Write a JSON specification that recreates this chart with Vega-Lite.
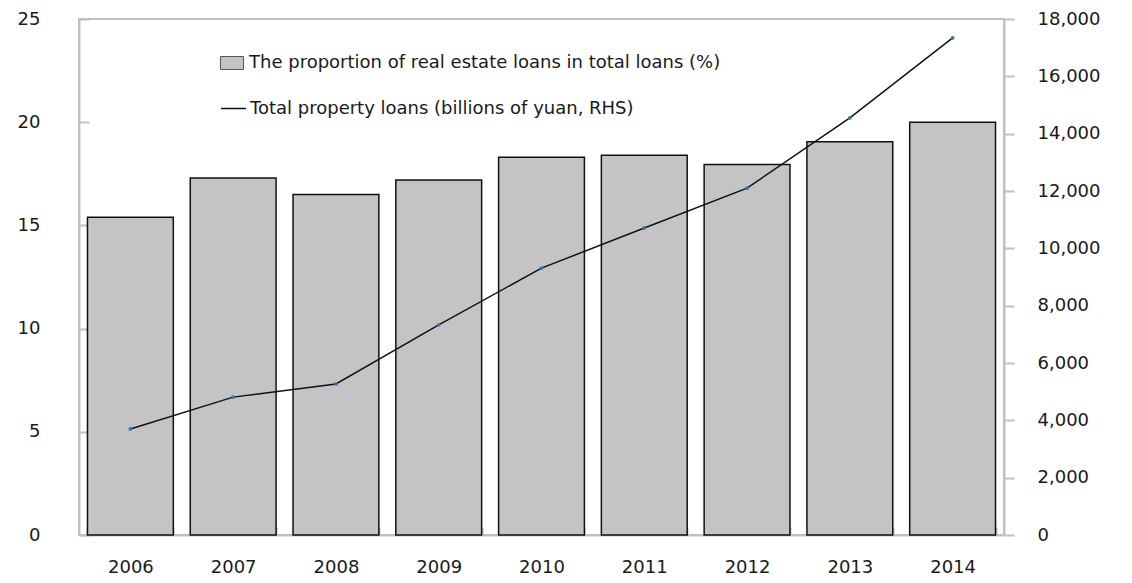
{
  "$schema": "https://vega.github.io/schema/vega-lite/v6.json",
  "width": 925,
  "height": 516,
  "autosize": {"type": "none"},
  "padding": {"left": 79, "top": 19, "right": 128, "bottom": 48},
  "background": "white",
  "config": {
    "font": "DejaVu Sans",
    "view": {"stroke": "#c0c0c0", "strokeWidth": 2},
    "axis": {"grid": false, "domainColor": "#c0c0c0", "domainWidth": 2, "tickColor": "#c0c0c0", "tickWidth": 2, "labelFont": "DejaVu Sans", "labelFontSize": 18, "labelColor": "#1a1a1a", "title": null}
  },
  "data": {
    "values": [
      {"year": "2006", "pct": 15.4, "loans": 3700},
      {"year": "2007", "pct": 17.3, "loans": 4810},
      {"year": "2008", "pct": 16.5, "loans": 5270},
      {"year": "2009", "pct": 17.2, "loans": 7330},
      {"year": "2010", "pct": 18.3, "loans": 9310},
      {"year": "2011", "pct": 18.4, "loans": 10710},
      {"year": "2012", "pct": 17.95, "loans": 12100},
      {"year": "2013", "pct": 19.05, "loans": 14550},
      {"year": "2014", "pct": 20.0, "loans": 17340}
    ]
  },
  "encoding": {
    "x": {
      "field": "year", "type": "ordinal",
      "scale": {"paddingInner": 0.165, "paddingOuter": 0.0825},
      "axis": {"labelAngle": 0, "tickBand": "extent", "tickSize": -8, "labelPadding": 31, "title": null}
    }
  },
  "layer": [
    {
      "mark": {"type": "bar", "stroke": "#111111", "strokeWidth": 1.5},
      "encoding": {
        "y": {
          "field": "pct", "type": "quantitative",
          "scale": {"domain": [0, 25], "nice": false},
          "axis": {"values": [0, 5, 10, 15, 20, 25], "tickSize": -10, "labelPadding": 49, "title": null}
        },
        "fill": {
          "datum": "The proportion of real estate loans in total loans (%)",
          "type": "nominal",
          "scale": {"range": ["#c4c4c4"]},
          "legend": {
            "title": null, "orient": "none", "legendX": 141, "legendY": 32,
            "symbolType": "M-1,-0.565L1,-0.565L1,0.565L-1,0.565Z",
            "symbolSize": 529, "symbolStrokeColor": "#555555", "symbolStrokeWidth": 1,
            "labelFontSize": 18, "labelFont": "DejaVu Sans", "labelColor": "#1a1a1a", "labelOffset": 5, "labelLimit": 800
          }
        }
      }
    },
    {
      "mark": {"type": "line", "strokeWidth": 1.5},
      "encoding": {
        "y": {
          "field": "loans", "type": "quantitative",
          "scale": {"domain": [0, 18000], "nice": false},
          "axis": {"orient": "right", "values": [0, 2000, 4000, 6000, 8000, 10000, 12000, 14000, 16000, 18000], "format": ",.0f", "tickSize": 10, "labelPadding": 23, "title": null}
        },
        "stroke": {
          "datum": "Total property loans (billions of yuan, RHS)",
          "type": "nominal",
          "scale": {"range": ["#111111"]},
          "legend": {
            "title": null, "orient": "none", "legendX": 141, "legendY": 76,
            "symbolType": "M-1,0L1,0",
            "symbolSize": 625, "symbolStrokeWidth": 1.5,
            "labelFontSize": 18, "labelFont": "DejaVu Sans", "labelColor": "#1a1a1a", "labelOffset": 3, "labelLimit": 800
          }
        }
      }
    },
    {
      "mark": {"type": "point", "filled": true, "color": "#2e75b6", "size": 14, "opacity": 1},
      "encoding": {
        "y": {"field": "loans", "type": "quantitative", "scale": {"domain": [0, 18000], "nice": false}, "axis": null}
      }
    }
  ],
  "resolve": {"scale": {"y": "independent"}}
}
